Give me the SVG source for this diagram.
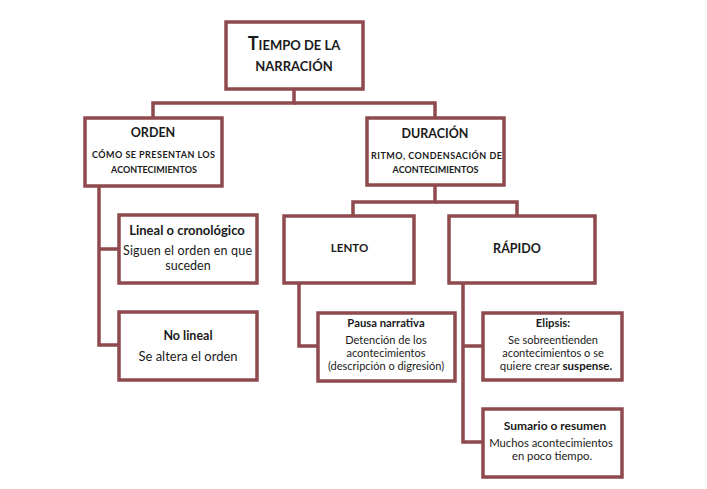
<svg xmlns="http://www.w3.org/2000/svg" width="707" height="489" viewBox="0 0 707 489">
<style>
.box{fill:#fff;stroke:#8E4A4D;stroke-width:3.5}
.ln{fill:none;stroke:#8E4A4D;stroke-width:3.5}
text{font-family:Lato,"Open Sans","Liberation Sans",sans-serif;fill:#1a1a1a;text-anchor:middle}
.b{font-weight:bold}
</style>
<rect width="707" height="489" fill="#fff"/>
<g id="connectors">
<polyline class="ln" points="294,89 294,103 153,103 153,118"/>
<polyline class="ln" points="294,103 435,103 435,118"/>
<polyline class="ln" points="99,186 99,345 119,345"/>
<line class="ln" x1="99" y1="249" x2="119" y2="249"/>
<polyline class="ln" points="435,185 435,202 353,202 353,216"/>
<polyline class="ln" points="435,202 517,202 517,216"/>
<polyline class="ln" points="299,283 299,346 318,346"/>
<polyline class="ln" points="463,283 463,442 483,442"/>
<line class="ln" x1="463" y1="346" x2="483" y2="346"/>
</g>
<g id="root">
<rect class="box" x="226" y="22" width="137" height="67"/>
<text class="b" x="294" y="50" font-size="13"><tspan font-size="18">T</tspan>IEMPO DE LA</text>
<text class="b" x="294" y="71" font-size="13">NARRACIÓN</text>
</g>
<g id="orden">
<rect class="box" x="85" y="118" width="137" height="68"/>
<text class="b" x="153" y="137" font-size="12.5">ORDEN</text>
<text class="b" x="153.5" y="158" font-size="9" textLength="123" lengthAdjust="spacing">CÓMO SE PRESENTAN  LOS</text>
<text class="b" x="154" y="173" font-size="9">ACONTECIMIENTOS</text>
</g>
<g id="duracion">
<rect class="box" x="367" y="118" width="137" height="67"/>
<text class="b" x="435" y="138" font-size="12.5">DURACIÓN</text>
<text class="b" x="436.5" y="159" font-size="9" textLength="131" lengthAdjust="spacing">RITMO, CONDENSACIÓN  DE</text>
<text class="b" x="435.5" y="173" font-size="9">ACONTECIMIENTOS</text>
</g>
<g id="lineal">
<rect class="box" x="119" y="215" width="138" height="68"/>
<text class="b" x="187" y="235" font-size="13">Lineal o cronológico</text>
<text x="187.5" y="255" font-size="12.5" textLength="129" lengthAdjust="spacing">Siguen el orden  en que</text>
<text x="188" y="270" font-size="12.5">suceden</text>
</g>
<g id="nolineal">
<rect class="box" x="119" y="312" width="138" height="68"/>
<text class="b" x="188" y="340" font-size="12.5">No lineal</text>
<text x="188" y="361" font-size="13">Se altera el orden</text>
</g>
<g id="lento">
<rect class="box" x="284" y="216" width="130" height="67"/>
<text class="b" x="349.5" y="252" font-size="11.5">LENTO</text>
</g>
<g id="rapido">
<rect class="box" x="449" y="216" width="146" height="67"/>
<text class="b" x="517" y="253" font-size="12.5">RÁPIDO</text>
</g>
<g id="pausa">
<rect class="box" x="318" y="313" width="137" height="68"/>
<text class="b" x="386" y="327" font-size="11.3">Pausa narrativa</text>
<text x="386" y="344" font-size="11">Detención de los</text>
<text x="386" y="357" font-size="11">acontecimientos</text>
<text x="386" y="370" font-size="11">(descripción o digresión)</text>
</g>
<g id="elipsis">
<rect class="box" x="483" y="313" width="139" height="67"/>
<text class="b" x="553" y="327" font-size="11.3">Elipsis:</text>
<text x="553" y="344" font-size="11">Se sobreentienden</text>
<text x="553" y="357" font-size="11">acontecimientos o se</text>
<text x="556" y="370" font-size="11.5">quiere crear <tspan class="b">suspense.</tspan></text>
</g>
<g id="sumario">
<rect class="box" x="483" y="409" width="139" height="68"/>
<text class="b" x="555" y="430" font-size="12">Sumario o resumen</text>
<text x="551" y="447" font-size="11.3">Muchos  acontecimientos</text>
<text x="552" y="460" font-size="11.3">en poco tiempo.</text>
</g>
</svg>
